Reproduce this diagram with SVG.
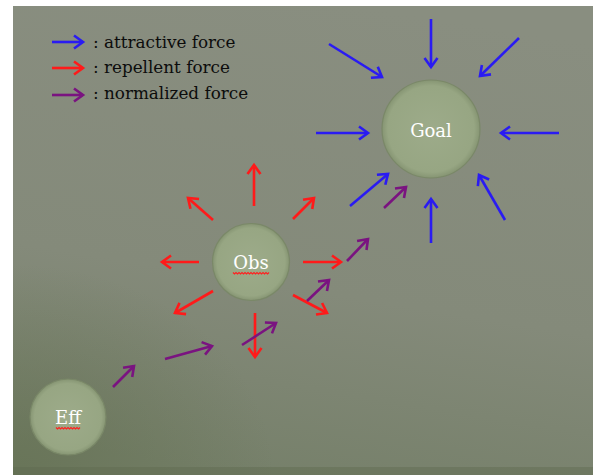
<svg xmlns="http://www.w3.org/2000/svg" width="597" height="475" viewBox="0 0 597 475">
<defs>
<linearGradient id="bg" x1="0.6" y1="0" x2="0.4" y2="1">
<stop offset="0" stop-color="#898e80"/>
<stop offset="0.6" stop-color="#848a7a"/>
<stop offset="1" stop-color="#76806a"/>
</linearGradient>
<radialGradient id="shade" cx="0" cy="1" r="0.45">
<stop offset="0" stop-color="#5f6d4c" stop-opacity="0.6"/>
<stop offset="1" stop-color="#5f6d4c" stop-opacity="0"/>
</radialGradient>
<radialGradient id="node" cx="0.5" cy="0.5" r="0.5">
<stop offset="0" stop-color="#9dab8a"/>
<stop offset="0.88" stop-color="#97a683"/>
<stop offset="1" stop-color="#869573"/>
</radialGradient>
<marker id="hb" markerUnits="userSpaceOnUse" markerWidth="20" markerHeight="20" viewBox="-12 -10 14 20" refX="0" refY="0" orient="auto">
<path d="M-9,-6.5 L0,0 L-9,6.5" fill="none" stroke="#2a1bf2" stroke-width="2.6"/>
</marker>
<marker id="hr" markerUnits="userSpaceOnUse" markerWidth="20" markerHeight="20" viewBox="-12 -10 14 20" refX="0" refY="0" orient="auto">
<path d="M-9,-6.5 L0,0 L-9,6.5" fill="none" stroke="#ff1a1a" stroke-width="2.6"/>
</marker>
<marker id="hp" markerUnits="userSpaceOnUse" markerWidth="20" markerHeight="20" viewBox="-12 -10 14 20" refX="0" refY="0" orient="auto">
<path d="M-9,-6.5 L0,0 L-9,6.5" fill="none" stroke="#7a1380" stroke-width="2.6"/>
</marker>
</defs>
<style>
.b{stroke:#2a1bf2;stroke-width:2.6;fill:none;marker-end:url(#hb)}
.r{stroke:#ff1a1a;stroke-width:2.6;fill:none;marker-end:url(#hr)}
.p{stroke:#7a1380;stroke-width:2.6;fill:none;marker-end:url(#hp)}
.leg{font-family:"DejaVu Serif","Liberation Serif",serif;font-size:16.8px;fill:#0c0c0c}
.lbl{font-family:"DejaVu Serif","Liberation Serif",serif;font-size:18px;fill:#ffffff;text-anchor:middle}
.nd{fill:url(#node);stroke:#7a8868;stroke-width:1.2}
.sq{fill:none;stroke:#ff2020;stroke-width:1.2}
</style>
<rect width="597" height="475" fill="#ffffff"/>
<rect x="13" y="6" width="580" height="469" fill="url(#bg)"/>
<rect x="13" y="6" width="580" height="469" fill="url(#shade)"/>
<rect x="13" y="467" width="580" height="8" fill="#5f6b50" opacity="0.45"/>

<g id="legend">
<line class="b" x1="52" y1="42" x2="83" y2="42"/>
<line class="r" x1="52" y1="68" x2="83" y2="68"/>
<line class="p" x1="52" y1="95" x2="83" y2="95"/>
<text class="leg" x="93" y="48">: attractive force</text>
<text class="leg" x="93" y="73">: repellent force</text>
<text class="leg" x="93" y="99">: normalized force</text>
</g>

<g id="goal">
<circle class="nd" cx="431" cy="129" r="49"/>
<text class="lbl" x="431" y="137">Goal</text>
</g>
<g id="obs">
<circle class="nd" cx="251" cy="262" r="38.5"/>
<text class="lbl" x="251" y="269">Obs</text>
<path class="sq" d="M233,272.5 l1.5,1.5 1.5,-1.5 1.5,1.5 1.5,-1.5 1.5,1.5 1.5,-1.5 1.5,1.5 1.5,-1.5 1.5,1.5 1.5,-1.5 1.5,1.5 1.5,-1.5 1.5,1.5 1.5,-1.5 1.5,1.5 1.5,-1.5 1.5,1.5 1.5,-1.5 1.5,1.5 1.5,-1.5 1.5,1.5 1.5,-1.5 1.5,1.5 1.5,-1.5"/>
</g>
<g id="eff">
<circle class="nd" cx="68" cy="417" r="38"/>
<text class="lbl" x="68" y="424">Eff</text>
<path class="sq" d="M56,427.5 l1.5,1.5 1.5,-1.5 1.5,1.5 1.5,-1.5 1.5,1.5 1.5,-1.5 1.5,1.5 1.5,-1.5 1.5,1.5 1.5,-1.5 1.5,1.5 1.5,-1.5 1.5,1.5 1.5,-1.5 1.5,1.5 1.5,-1.5"/>
</g>

<g id="connectors">
<line class="b" x1="431" y1="19" x2="431" y2="67"/>
<line class="b" x1="329" y1="44" x2="382" y2="77"/>
<line class="b" x1="519" y1="38" x2="480" y2="76"/>
<line class="b" x1="316" y1="133" x2="368" y2="133"/>
<line class="b" x1="559" y1="133" x2="501" y2="133"/>
<line class="b" x1="350" y1="206" x2="388" y2="174"/>
<line class="b" x1="431" y1="243" x2="431" y2="199"/>
<line class="b" x1="505" y1="220" x2="479" y2="175"/>

<line class="r" x1="254" y1="206" x2="254" y2="165"/>
<line class="r" x1="213" y1="220" x2="188" y2="198"/>
<line class="r" x1="293" y1="219" x2="314" y2="198"/>
<line class="r" x1="199" y1="262" x2="162" y2="262"/>
<line class="r" x1="303" y1="262" x2="341" y2="262"/>
<line class="r" x1="213" y1="291" x2="175" y2="313"/>
<line class="r" x1="255" y1="313" x2="255" y2="357"/>
<line class="r" x1="293" y1="295" x2="327" y2="313"/>

<line class="p" x1="384" y1="208" x2="406" y2="187"/>
<line class="p" x1="347" y1="261" x2="368" y2="239"/>
<line class="p" x1="307" y1="301" x2="329" y2="280"/>
<line class="p" x1="242" y1="345" x2="276" y2="323"/>
<line class="p" x1="165" y1="359" x2="212" y2="346"/>
<line class="p" x1="113" y1="387" x2="134" y2="366"/>
</g>
</svg>
